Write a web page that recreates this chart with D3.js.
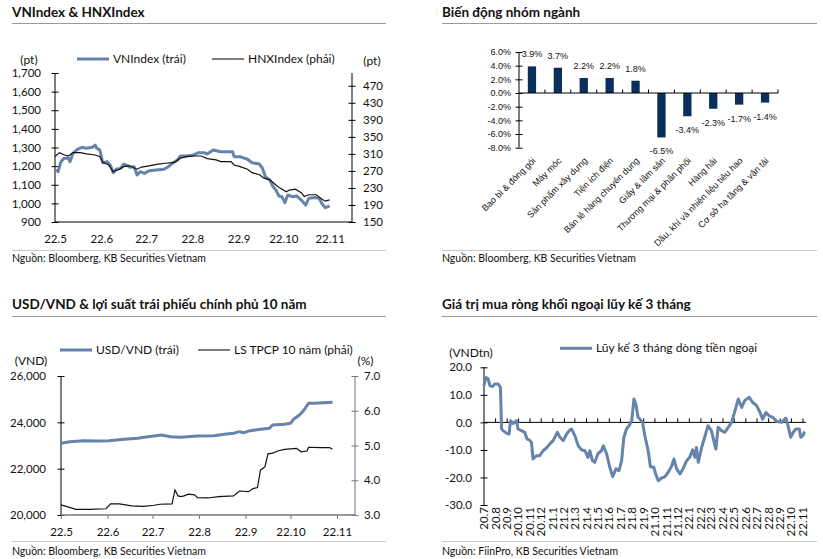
<!DOCTYPE html>
<html><head><meta charset="utf-8">
<script src="https://cdn.jsdelivr.net/npm/d3@7"></script>
<style>
body{margin:0;background:#fff;}
svg{display:block;}
</style></head><body>
<svg id="c" width="823" height="559"></svg>
<script>
// ---------------- DATA ----------------
// Panel 1: VNIndex & HNXIndex
const vnDates = ["2022-05-02","2022-05-03","2022-05-05","2022-05-07","2022-05-10","2022-05-11","2022-05-13","2022-05-16","2022-05-19","2022-05-22","2022-05-26","2022-05-28","2022-05-29","2022-05-31","2022-06-02","2022-06-05","2022-06-07","2022-06-09","2022-06-11","2022-06-14","2022-06-16","2022-06-19","2022-06-20","2022-06-23","2022-06-25","2022-06-27","2022-06-30","2022-07-03","2022-07-08","2022-07-13","2022-07-16","2022-07-18","2022-07-22","2022-07-24","2022-07-28","2022-08-02","2022-08-05","2022-08-09","2022-08-11","2022-08-15","2022-08-20","2022-08-23","2022-08-28","2022-08-29","2022-09-02","2022-09-07","2022-09-10","2022-09-15","2022-09-17","2022-09-19","2022-09-22","2022-09-24","2022-09-26","2022-09-28","2022-09-30","2022-10-02","2022-10-04","2022-10-07","2022-10-10","2022-10-13","2022-10-16","2022-10-18","2022-10-22","2022-10-25","2022-10-27","2022-10-29","2022-11-01"];
const vnValues = [1183,1170,1224,1242,1242,1224,1269,1290,1301,1296,1301,1313,1296,1287,1218,1224,1206,1165,1183,1188,1211,1201,1194,1197,1152,1170,1161,1175,1179,1183,1197,1211,1233,1254,1254,1260,1272,1272,1265,1287,1277,1277,1277,1251,1251,1237,1218,1211,1188,1143,1125,1090,1072,1040,1036,1004,1045,1036,1040,1018,991,1027,1032,1027,997,977,986];
const hnxDates = ["2022-05-01","2022-05-04","2022-05-07","2022-05-10","2022-05-13","2022-05-18","2022-05-22","2022-05-27","2022-05-31","2022-06-02","2022-06-06","2022-06-09","2022-06-13","2022-06-16","2022-06-20","2022-06-25","2022-06-28","2022-07-03","2022-07-09","2022-07-14","2022-07-20","2022-07-24","2022-07-29","2022-08-02","2022-08-07","2022-08-11","2022-08-17","2022-08-20","2022-08-27","2022-08-29","2022-09-02","2022-09-07","2022-09-10","2022-09-15","2022-09-18","2022-09-22","2022-09-26","2022-09-29","2022-10-03","2022-10-05","2022-10-09","2022-10-13","2022-10-15","2022-10-18","2022-10-23","2022-10-26","2022-10-29","2022-11-01"];
const hnxValues = [304,313,308,305,313,313,310,308,304,290,284,268,274,280,282,274,279,282,286,288,290,300,304,305,305,299,296,292,292,284,280,274,266,261,253,249,237,229,221,225,227,219,210,214,214,206,199,202];
const p1MonthLabels = ["22.5","22.6","22.7","22.8","22.9","22.10","22.11"];
const p1LeftTicks = [900,1000,1100,1200,1300,1400,1500,1600,1700];
const p1RightTicks = [150,190,230,270,310,350,390,430,470];

// Panel 2: sector performance
const sectorNames = ["Bao bì & đóng gói","Máy móc","Sản phẩm xây dựng","Tiện ích điện","Bán lẻ hàng chuyên dụng","Giấy & lâm sản","Thương mại & phân phối","Hàng hải","Dầu, khí và nhiên liệu tiêu hao","Cơ sở hạ tầng & vận tải"];
const sectorChanges = [3.9,3.7,2.2,2.2,1.8,-6.5,-3.4,-2.3,-1.7,-1.4];
const p2Ticks = [-8,-6,-4,-2,0,2,4,6];

// Panel 3: USD/VND & 10Y bond yield
const usdDates = ["2022-05-01","2022-05-07","2022-05-16","2022-05-25","2022-06-02","2022-06-12","2022-06-21","2022-06-28","2022-07-07","2022-07-13","2022-07-20","2022-07-31","2022-08-11","2022-08-18","2022-08-24","2022-08-28","2022-08-31","2022-09-04","2022-09-11","2022-09-17","2022-09-19","2022-09-27","2022-10-01","2022-10-03","2022-10-07","2022-10-10","2022-10-13","2022-10-17","2022-10-23","2022-10-29"];
const usdValues = [23095,23165,23208,23195,23208,23268,23311,23381,23454,23381,23354,23410,23424,23484,23527,23597,23553,23640,23700,23743,23885,23915,23958,24131,24317,24533,24820,24820,24848,24865];
const bondDates = ["2022-05-01","2022-05-05","2022-05-11","2022-05-20","2022-05-31","2022-06-03","2022-06-09","2022-06-17","2022-06-25","2022-07-02","2022-07-06","2022-07-14","2022-07-16","2022-07-18","2022-07-20","2022-07-22","2022-07-25","2022-07-29","2022-07-31","2022-08-07","2022-08-14","2022-08-24","2022-08-28","2022-09-03","2022-09-06","2022-09-09","2022-09-11","2022-09-14","2022-09-16","2022-09-19","2022-09-23","2022-09-27","2022-10-05","2022-10-08","2022-10-12","2022-10-13","2022-10-21","2022-10-27","2022-10-29"];
const bondValues = [3.29,3.24,3.16,3.16,3.18,3.32,3.32,3.26,3.25,3.28,3.31,3.32,3.72,3.55,3.53,3.55,3.6,3.58,3.5,3.49,3.53,3.55,3.69,3.67,3.76,3.79,4.29,4.39,4.76,4.78,4.85,4.89,4.92,4.82,4.84,4.95,4.94,4.94,4.89];
const p3MonthLabels = ["22.5","22.6","22.7","22.8","22.9","22.10","22.11"];
const p3LeftTicks = [20000,22000,24000,26000];
const p3RightTicks = [3,4,5,6,7];

// Panel 4: 3-month cumulative foreign net buying
const flowDates = ["2020-07-01","2020-07-06","2020-07-12","2020-07-17","2020-07-24","2020-07-30","2020-08-08","2020-08-14","2020-08-17","2020-08-21","2020-08-31","2020-09-06","2020-09-10","2020-09-17","2020-09-26","2020-09-30","2020-10-09","2020-10-18","2020-10-24","2020-11-01","2020-11-05","2020-11-09","2020-11-18","2020-11-27","2020-12-06","2020-12-15","2020-12-24","2021-01-02","2021-01-13","2021-01-20","2021-01-29","2021-02-07","2021-02-14","2021-02-20","2021-03-01","2021-03-10","2021-03-19","2021-03-28","2021-04-05","2021-04-10","2021-04-17","2021-04-23","2021-05-02","2021-05-11","2021-05-16","2021-05-25","2021-06-02","2021-06-10","2021-06-19","2021-06-27","2021-07-04","2021-07-10","2021-07-17","2021-07-24","2021-07-31","2021-08-06","2021-08-11","2021-08-17","2021-08-22","2021-08-29","2021-09-04","2021-09-13","2021-09-19","2021-09-28","2021-10-03","2021-10-10","2021-10-19","2021-10-28","2021-11-05","2021-11-14","2021-11-21","2021-11-28","2021-12-07","2021-12-15","2021-12-25","2022-01-02","2022-01-10","2022-01-16","2022-01-20","2022-01-25","2022-02-03","2022-02-11","2022-02-20","2022-03-01","2022-03-13","2022-03-19","2022-03-28","2022-04-06","2022-04-15","2022-04-24","2022-05-03","2022-05-12","2022-05-21","2022-05-29","2022-06-10","2022-06-19","2022-06-30","2022-07-09","2022-07-16","2022-07-25","2022-08-02","2022-08-13","2022-08-22","2022-09-05","2022-09-16","2022-09-22","2022-09-29","2022-10-06","2022-10-13","2022-10-22","2022-10-26","2022-11-01","2022-11-05"];
const flowValues = [13.3,16.3,15.8,13.3,13,13.9,13.9,12.7,-2.4,-3,-4,-4.2,0.6,-0.4,0.6,-2.4,-3,-3.6,-6,-6.6,-7.3,-13.3,-12.1,-12.1,-10.3,-9.3,-7.8,-6.6,-3.6,-5.4,-6.6,-4.2,-3,-2.4,-4.8,-8.5,-10,-10.3,-12.7,-10.3,-13.9,-14.5,-11.3,-10.3,-8.5,-11.5,-16.1,-19.7,-16.9,-17.5,-13.9,-5.4,-2.4,-1.2,0.6,8.5,6.7,1.8,1.2,0,-4.8,-10.3,-16.1,-16.3,-18.7,-21.2,-20.2,-19.7,-18.2,-16.1,-13.3,-16.9,-18.7,-16.9,-13.9,-12.7,-10,-12.7,-9.1,-14.5,-9.1,-5.4,-1.2,-3,-9.7,-1.8,-3,-3.6,-1.8,0,4.2,8.5,5.4,7.9,9.1,7.3,6.1,3.6,1.2,3.6,2.4,1.8,0.4,0,1.6,-1.2,-5.4,-3.6,-2.4,-2.4,-5.4,-4.8,-3.3];
const p4MonthLabels = ["20.7","20.8","20.9","20.10","20.11","20.12","21.1","21.2","21.3","21.4","21.5","21.6","21.7","21.8","21.9","21.10","21.11","21.12","22.1","22.2","22.3","22.4","22.5","22.6","22.7","22.8","22.9","22.10","22.11"];
const p4Ticks = [-30,-20,-10,0,10,20];

// ---------------- DRAWING ----------------
const FONT = "Lato, 'Noto Sans', sans-serif";
const BLUE = "#6683ab";
const svg = d3.select("#c").attr("font-family", FONT);
svg.append("rect").attr("width", 823).attr("height", 559).attr("fill", "#fff");
const parse = d3.timeParse("%Y-%m-%d");
const labelToDate = s => { const p = s.split("."); return new Date(2000 + (+p[0]), (+p[1]) - 1, 1); };
const zip = (ds, vs) => ds.map((d, i) => ({ date: parse(d), v: vs[i] }));
const fix1 = v => (v < 0 ? "-" : "") + Math.abs(v).toFixed(1);   // ASCII hyphen like the reference

function frame(x0, x1, titleY, ruleY, botRuleY, srcY, title, source) {
  svg.append("text").attr("x", x0).attr("y", titleY).attr("font-size", 13.5)
    .attr("font-weight", "bold").attr("fill", "#111").text(title);
  svg.append("line").attr("x1", x0).attr("x2", x1).attr("y1", ruleY).attr("y2", ruleY)
    .attr("stroke", "#9a9a9a").attr("stroke-width", 1);
  svg.append("line").attr("x1", x0).attr("x2", x1).attr("y1", botRuleY).attr("y2", botRuleY)
    .attr("stroke", "#c8c8c8").attr("stroke-width", 1);
  svg.append("text").attr("x", x0).attr("y", srcY).attr("font-size", 10.5).attr("fill", "#111").text(source);
}

function yAxis(scale, x, side, ticks, fmt, gap, fs, color, family) {
  const ax = (side === "left" ? d3.axisLeft(scale) : d3.axisRight(scale))
    .tickValues(ticks).tickFormat(fmt).tickSizeOuter(0).tickSizeInner(3.5);
  const g = svg.append("g").attr("transform", `translate(${x},0)`).call(ax);
  g.attr("font-family", family || FONT).attr("font-size", fs);
  g.select(".domain").remove();
  g.selectAll(".tick line").attr("x1", side === "left" ? 3.5 : -3.5).attr("stroke", color || "#000");
  g.selectAll(".tick text").attr("x", side === "left" ? -gap : gap).attr("fill", "#111");
  const r = scale.range();
  svg.append("line").attr("x1", x).attr("x2", x).attr("y1", r[0]).attr("y2", r[1]).attr("stroke", color || "#000");
  return g;
}

function legend(x1, x2, y, color, w, label) {
  svg.append("line").attr("x1", x1).attr("x2", x2).attr("y1", y).attr("y2", y)
    .attr("stroke", color).attr("stroke-width", w);
  svg.append("text").attr("x", x2 + 4).attr("y", y + 4).attr("font-size", 12).attr("fill", "#111").text(label);
}

// ===== Panel 1 =====
frame(12, 386, 17, 23.5, 250.5, 262, "VNIndex & HNXIndex", "Nguồn: Bloomberg, KB Securities Vietnam");
{
  const x = d3.scaleTime().domain([new Date(2022, 4, 1), new Date(2022, 10, 16)]).range([55, 352]);
  const yL = d3.scaleLinear().domain([900, 1700]).range([222, 73]);
  const yR = d3.scaleLinear().domain([150, 500]).range([222, 73]);
  yAxis(yL, 55, "left", p1LeftTicks, d3.format(","), 14, 11.5);
  yAxis(yR, 352, "right", p1RightTicks, d3.format("d"), 11, 11.5);
  svg.append("line").attr("x1", x.range()[0]).attr("x2", x.range()[1]).attr("y1", 222).attr("y2", 222).attr("stroke", "#000");
  const gx = svg.append("g").attr("transform", "translate(0,222)")
    .call(d3.axisBottom(x).tickValues(p1MonthLabels.map(labelToDate)).tickFormat((d, i) => p1MonthLabels[i]).tickSize(0));
  gx.attr("font-family", FONT).attr("font-size", 11.5);
  gx.select(".domain").remove();
  gx.selectAll(".tick text").attr("y", 21).attr("dy", null).attr("fill", "#111");
  const lineL = d3.line().x(d => x(d.date)).y(d => yL(d.v));
  const lineR = d3.line().x(d => x(d.date)).y(d => yR(d.v));
  svg.append("path").attr("d", lineL(zip(vnDates, vnValues))).attr("fill", "none").attr("stroke", BLUE).attr("stroke-width", 3).attr("stroke-linejoin", "round");
  svg.append("path").attr("d", lineR(zip(hnxDates, hnxValues))).attr("fill", "none").attr("stroke", "#111").attr("stroke-width", 1.2);
  legend(77, 109, 59, BLUE, 3, "VNIndex (trái)");
  legend(212, 244, 59, "#555", 1.5, "HNXIndex (phải)");
  svg.append("text").attr("x", 29).attr("y", 63.5).attr("text-anchor", "middle").attr("font-size", 12).attr("fill", "#111").text("(pt)");
  svg.append("text").attr("x", 372).attr("y", 65).attr("text-anchor", "middle").attr("font-size", 12).attr("fill", "#111").text("(pt)");
}

// ===== Panel 2 =====
frame(442, 817, 17, 23.5, 250.5, 262, "Biến động nhóm ngành", "Nguồn: Bloomberg, KB Securities Vietnam");
{
  const SMALL = "'Liberation Sans', Arial, sans-serif";
  const xb = d3.scaleBand().domain(sectorNames).range([519, 778]).paddingInner(0.68).paddingOuter(0.34);
  const yb = d3.scaleLinear().domain([-8, 6]).range([147.7, 52]);
  yAxis(yb, 519, "left", p2Ticks, d => fix1(d) + "%", 8, 9, "#000", SMALL);
  const y0 = yb(0);
  svg.append("g").selectAll("rect").data(sectorNames).join("rect")
    .attr("x", d => xb(d)).attr("width", xb.bandwidth())
    .attr("y", (d, i) => yb(Math.max(0, sectorChanges[i])))
    .attr("height", (d, i) => Math.abs(yb(sectorChanges[i]) - y0))
    .attr("fill", "#0b2f5b");
  svg.append("line").attr("x1", xb.range()[0]).attr("x2", xb.range()[1]).attr("y1", y0).attr("y2", y0).attr("stroke", "#000");
  const bounds = sectorNames.map(d => xb(d) - xb.step() * xb.paddingInner() / 2).concat([xb.range()[1]]);
  svg.append("g").selectAll("line").data(bounds.slice(1)).join("line")
    .attr("x1", d => d).attr("x2", d => d).attr("y1", y0 - 3.5).attr("y2", y0).attr("stroke", "#000");
  svg.append("g").selectAll("text").data(sectorNames).join("text")
    .attr("x", d => xb(d) + xb.bandwidth() / 2)
    .attr("y", (d, i) => sectorChanges[i] >= 0 ? yb(sectorChanges[i]) - 9 : yb(sectorChanges[i]) + 17)
    .attr("text-anchor", "middle").attr("font-family", SMALL).attr("font-size", 9).attr("fill", "#111")
    .text((d, i) => fix1(sectorChanges[i]) + "%");
  svg.append("g").selectAll("text").data(sectorNames).join("text")
    .attr("transform", d => `translate(${xb(d) + xb.bandwidth() / 2 + 2},159) rotate(-45)`)
    .attr("text-anchor", "end").attr("dy", "0.35em").attr("font-family", SMALL).attr("font-size", 9).attr("fill", "#111")
    .text(d => d);
}

// ===== Panel 3 =====
frame(12, 386, 309, 316.5, 541.5, 554.5, "USD/VND & lợi suất trái phiếu chính phủ 10 năm", "Nguồn: Bloomberg, KB Securities Vietnam");
{
  const x = d3.scaleTime().domain([new Date(2022, 4, 1), new Date(2022, 10, 13)]).range([61, 355]);
  const yL = d3.scaleLinear().domain([20000, 26000]).range([515, 376]);
  const yR = d3.scaleLinear().domain([3, 7]).range([515, 376]);
  yAxis(yL, 61, "left", p3LeftTicks, d3.format(","), 15, 11.5);
  yAxis(yR, 355, "right", p3RightTicks, d3.format(".1f"), 9, 11.5, "#777");
  svg.append("line").attr("x1", x.range()[0]).attr("x2", x.range()[1]).attr("y1", 515).attr("y2", 515).attr("stroke", "#777").attr("stroke-width", 1.5);
  const gx = svg.append("g").attr("transform", "translate(0,515)")
    .call(d3.axisBottom(x).tickValues(p3MonthLabels.map(labelToDate)).tickFormat((d, i) => p3MonthLabels[i]).tickSizeInner(4).tickSizeOuter(0));
  gx.attr("font-family", FONT).attr("font-size", 11.5);
  gx.select(".domain").remove();
  gx.selectAll(".tick line").attr("stroke", "#777");
  gx.selectAll(".tick text").attr("y", 21).attr("dy", null).attr("fill", "#111");
  const lineL = d3.line().x(d => x(d.date)).y(d => yL(d.v));
  const lineR = d3.line().x(d => x(d.date)).y(d => yR(d.v));
  svg.append("path").attr("d", lineL(zip(usdDates, usdValues))).attr("fill", "none").attr("stroke", BLUE).attr("stroke-width", 3).attr("stroke-linejoin", "round");
  svg.append("path").attr("d", lineR(zip(bondDates, bondValues))).attr("fill", "none").attr("stroke", "#111").attr("stroke-width", 1.2);
  legend(60, 92, 350, BLUE, 3, "USD/VND (trái)");
  legend(198, 230, 350, "#555", 1.5, "LS TPCP 10 năm (phải)");
  svg.append("text").attr("x", 31).attr("y", 365).attr("text-anchor", "middle").attr("font-size", 12).attr("fill", "#111").text("(VND)");
  svg.append("text").attr("x", 365.5).attr("y", 365).attr("text-anchor", "middle").attr("font-size", 12).attr("fill", "#111").text("(%)");
}

// ===== Panel 4 =====
frame(442, 817, 309, 316.5, 541.5, 554.5, "Giá trị mua ròng khối ngoại lũy kế 3 tháng", "Nguồn: FiinPro, KB Securities Vietnam");
{
  const x = d3.scaleTime().domain([new Date(2020, 6, 1), new Date(2022, 10, 9)]).range([484, 806]);
  const y = d3.scaleLinear().domain([-30, 20]).range([505, 367.3]);
  yAxis(y, 484, "left", p4Ticks, fix1, 12, 11.5);
  const y0 = y(0);
  svg.append("line").attr("x1", x.range()[0]).attr("x2", x.range()[1]).attr("y1", y0).attr("y2", y0).attr("stroke", "#000");
  const tickDates = p4MonthLabels.map(labelToDate);
  svg.append("g").selectAll("line").data(tickDates.slice(1)).join("line")
    .attr("x1", d => x(d)).attr("x2", d => x(d)).attr("y1", y0 - 4).attr("y2", y0).attr("stroke", "#000");
  svg.append("g").selectAll("text").data(p4MonthLabels).join("text")
    .attr("transform", (d, i) => `translate(${x(tickDates[i])},507) rotate(-90)`)
    .attr("text-anchor", "end").attr("dy", "0.35em").attr("font-size", 11.5).attr("fill", "#111").text(d => d);
  const line = d3.line().x(d => x(d.date)).y(d => y(d.v));
  svg.append("path").attr("d", line(zip(flowDates, flowValues))).attr("fill", "none").attr("stroke", BLUE).attr("stroke-width", 3).attr("stroke-linejoin", "round");
  legend(560, 592, 348.3, BLUE, 3, "Lũy kế 3 tháng dòng tiền ngoại");
  svg.append("text").attr("x", 471).attr("y", 357).attr("text-anchor", "middle").attr("font-size", 12).attr("fill", "#111").text("(VNDtn)");
}
</script></body></html>
